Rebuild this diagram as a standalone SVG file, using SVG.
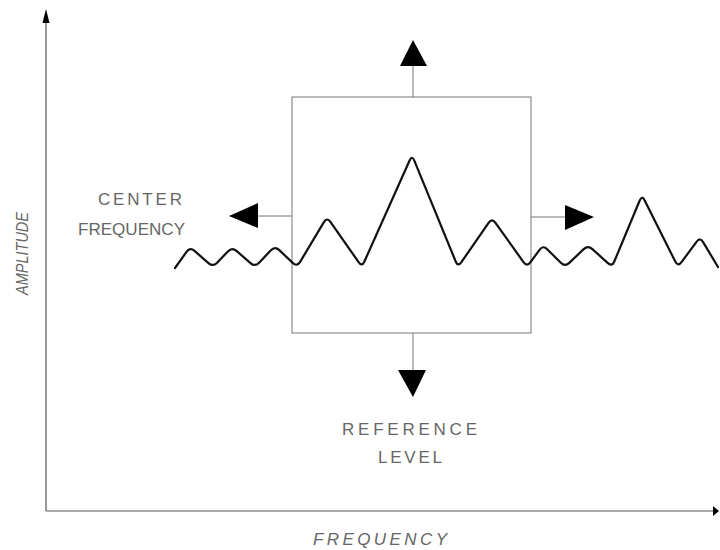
<svg xmlns="http://www.w3.org/2000/svg" width="720" height="550" viewBox="0 0 720 550">
<style>
.lbl{font-family:"Liberation Sans","DejaVu Sans",sans-serif;font-size:17px;fill:#666}
.ax{font-style:italic}
.thin{stroke:#777;stroke-width:1;fill:none}
.axis{stroke:#555;stroke-width:1.2;fill:none}
.head{fill:#000}
</style>
<rect width="720" height="550" fill="#fff"/>
<g id="axes">
<line class="axis" x1="46" y1="14" x2="46" y2="511"/>
<line class="axis" x1="46" y1="511" x2="716" y2="511"/>
<polygon class="head" points="46,9 49.5,23 42.5,23"/>
<polygon class="head" points="719,511 713,506 713,516"/>
</g>
<g id="amplitude-label"><text class="lbl ax" transform="translate(28,295) rotate(-90)" x="0" y="0" textLength="83" lengthAdjust="spacingAndGlyphs">AMPLITUDE</text></g>
<g id="frequency-label"><text class="lbl ax" x="313" y="545" textLength="134" lengthAdjust="spacing">FREQUENCY</text></g>
<g id="box"><rect class="thin" x="292" y="97" width="239" height="236"/></g>
<g id="connectors">
<line class="thin" x1="413" y1="97" x2="413" y2="64"/>
<line class="thin" x1="413" y1="333" x2="413" y2="371"/>
<line class="thin" x1="292" y1="216" x2="257" y2="216"/>
<line class="thin" x1="531" y1="217" x2="566" y2="217"/>
<polygon class="head" points="413,40 427,66 400,66"/>
<polygon class="head" points="413,397 398,370 426,370"/>
<polygon class="head" points="229,216 258,203 258,228"/>
<polygon class="head" points="594,217 565,205 565,230"/>
</g>
<g id="signal">
<path d="M175,268 L186.5,251.9 Q190,247 194.5,250.9 L208.5,263.1 Q213,267 217.1,262.7 L227.9,251.4 Q232,247 236.5,250.9 L250.5,263.1 Q255,267 259.1,262.7 L270.9,250.3 Q275,246 279.3,250.1 L292.7,262.9 Q297,267 300.1,261.9 L323.9,222.1 Q327,217 330.4,221.9 L358.6,262.1 Q362,267 364.4,261.5 L409.6,160.5 Q412,155 414.3,160.6 L455.7,261.5 Q458,267 461.4,262.1 L488.6,222.9 Q492,218 495.5,222.9 L523.5,262.1 Q527,267 530.5,262.1 L539.5,249.9 Q543,245 547.2,249.2 L560.8,262.8 Q565,267 569.3,262.9 L583.7,249.1 Q588,245 592.4,249.1 L607.6,262.9 Q612,267 614.3,261.5 L639.7,200.5 Q642,195 644.7,200.4 L675.3,261.6 Q678,267 681.5,262.2 L696.5,241.8 Q700,237 703.1,242.1 L718,267" fill="none" stroke="#111" stroke-width="2.2" stroke-linejoin="round" stroke-linecap="round"/>
</g>
<g id="center-frequency">
<text class="lbl" x="98" y="205" textLength="84" lengthAdjust="spacing">CENTER</text>
<text class="lbl" x="78" y="235" textLength="107" lengthAdjust="spacingAndGlyphs">FREQUENCY</text>
</g>
<g id="reference-level">
<text class="lbl" x="342" y="435" textLength="135" lengthAdjust="spacing">REFERENCE</text>
<text class="lbl" x="378" y="463" textLength="64" lengthAdjust="spacing">LEVEL</text>
</g>
</svg>
